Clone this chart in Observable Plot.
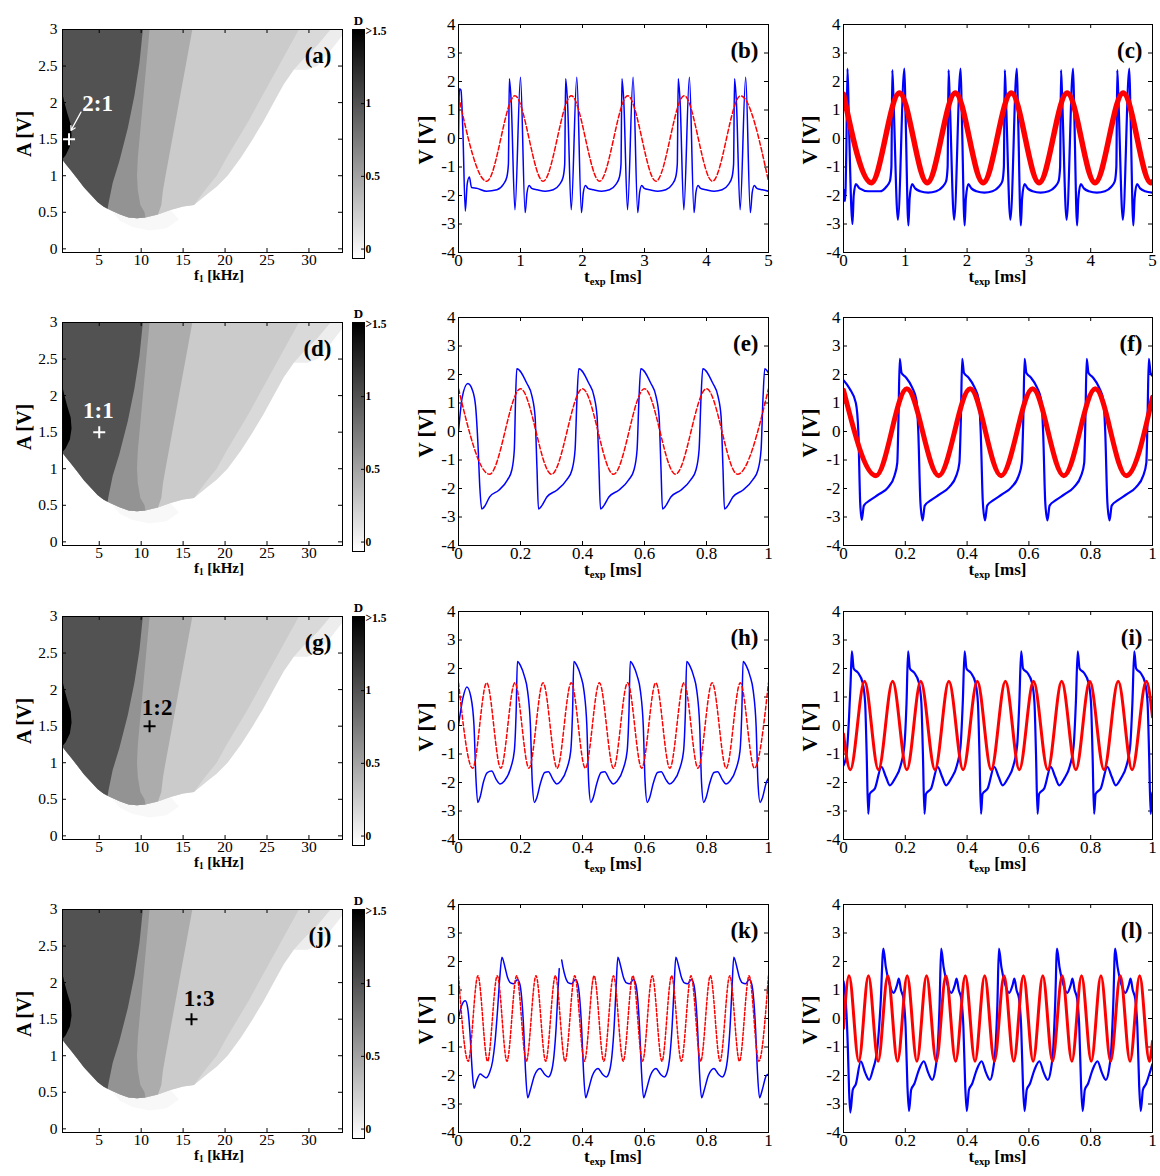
<!DOCTYPE html>
<html><head><meta charset="utf-8">
<script src="https://cdn.jsdelivr.net/npm/d3@7"></script>
<script src="https://cdn.jsdelivr.net/npm/@observablehq/plot@0.6"></script>
<style>
body{margin:0;background:#fff;}
#fig{position:relative;width:1160px;height:1176px;font-family:"Liberation Serif","Times New Roman",serif;background:#fff;overflow:hidden;}
#fig svg{position:absolute;overflow:visible;}
.lab{position:absolute;font-weight:bold;line-height:0.8;white-space:nowrap;color:#000;}
.lab sub{font-size:0.62em;vertical-align:-0.25em;line-height:0;}
.hlab{transform:translate(-50%,-50%);}
.vlab{transform:translate(-50%,-50%) rotate(-90deg);}
.mapPanel g[aria-label$="tick label"]{font-size:15.5px;}
.tsPanel g[aria-label$="tick label"]{font-size:17px;}
.barPanel g[aria-label$="tick label"]{font-size:11.5px;font-weight:bold;}
</style></head><body><div id="fig"></div>
<script>
// ---------- tick labels ----------
const fTicks = [5, 10, 15, 20, 25, 30];
const aTicks = [0, 0.5, 1, 1.5, 2, 2.5, 3];
const vTicks = [-4, -3, -2, -1, 0, 1, 2, 3, 4];
const tTicksLong = [0, 1, 2, 3, 4, 5];
const tTicksShort = [0, 0.2, 0.4, 0.6, 0.8, 1];
const dTicks = [0, 0.5, 1, 1.5];
const panelLetters = [["(a)", "(b)", "(c)"], ["(d)", "(e)", "(f)"], ["(g)", "(h)", "(i)"], ["(j)", "(k)", "(l)"]];

// ---------- locking map (f1 [kHz], A [V]) region outlines ----------
const tongueOuterEdge = [[32.6,3.0],[31.0,2.78],[29.4,2.6],[28.2,2.45],[27.0,2.25],[25.8,2.0],[24.6,1.75],[23.3,1.5],[21.9,1.25],[20.3,1.0],[19.0,0.85],[17.9,0.75],[16.3,0.6]];
const bottomEast = [[15.0,0.58],[13.5,0.53],[12.0,0.47]];
const bottomWest = [[10.5,0.43],[9.5,0.42],[8.5,0.43],[7.5,0.47],[6.5,0.52],[6.0,0.55]];
const darkLowerEdge = [[5.5,0.58],[4.8,0.64],[4.0,0.74],[3.2,0.84],[2.4,0.96],[1.63,1.07],[1.0,1.16],[0.62,1.22]];
const band3Edge = [[28.8,3.0],[27.6,2.75],[26.4,2.5],[25.2,2.25],[24.0,2.0],[22.8,1.75],[21.5,1.5],[20.2,1.25],[19.0,1.0],[17.6,0.8],[16.3,0.6]];
const band2Edge = [[16.1,3.0],[15.7,2.75],[15.3,2.5],[14.9,2.25],[14.5,2.0],[14.1,1.75],[13.7,1.5],[13.3,1.25],[12.9,1.0],[12.6,0.8],[12.4,0.6],[12.0,0.47]];
const band1Edge = [[11.0,3.0],[10.8,2.75],[10.6,2.5],[10.4,2.25],[10.2,2.0],[10.0,1.75],[9.8,1.5],[9.6,1.25],[9.5,1.0],[9.6,0.8],[9.9,0.6],[10.4,0.5]];
const darkEdge = [[10.2,3.0],[9.8,2.55],[9.2,2.1],[8.4,1.65],[7.4,1.2],[6.6,0.9],[6.1,0.62],[6.0,0.55]];
const blackEdge = [[0.62,2.12],[0.85,2.0],[1.2,1.85],[1.6,1.7],[1.7,1.55],[1.5,1.4],[1.0,1.28],[0.62,1.23]];
const topRightFringe = [[29.4,2.6],[31.0,2.78],[32.6,3.0],[34,3.0],[34,2.92],[32.5,2.7],[31,2.5],[29.8,2.45],[28.2,2.45]];
const bottomFringe = [[6.5,0.52],[7.5,0.38],[9,0.3],[11,0.25],[13,0.28],[14.5,0.4],[13.5,0.53]];
const leftTop = [[0.62,3.0]];
// D value of each region
const regionD = {fringeTop: 0.05, fringeBottom: -0.02, L4: 0.17, L3: 0.26, L2: 0.45, L1: 0.6, dark: 1.0, black: 1.6};

// operating points and locking ratios
const lockingRatios = ["2:1", "1:1", "1:2", "1:3"];
const markerF = [1.4, 5, 11, 16];
const markerA = [1.5, 1.5, 1.5, 1.5];
const ratioLabelF = [4.8, 4.9, 11.9, 16.9];
const ratioLabelA = [1.99, 1.8, 1.75, 1.78];
const annotationColor = ["white", "white", "black", "black"];
const arrowFrom = [2.82, 1.87];
const arrowTo = [1.63, 1.62];

// ---------- time series [t ms, V] ----------
const b_neuron = [[0,0],[0.015,1.75],[0.04,1.7],[0.07,0.3],[0.11,-2.55],[0.14,-1.6],[0.175,-1.35],[0.21,-1.72],[0.3,-1.75],[0.45,-1.85],
[0.62,-1.8],[0.72,-1.62],[0.78,-1.35],[0.805,-0.9],[0.82,2.1],[0.85,1.3],[0.91,-2.5],[1.0,2.15],[1.075,-2.6],[1.105,-1.9],[1.14,-1.65],[1.18,-1.75],[1.27,-1.8],[1.4,-1.85],
[1.528,-1.8],[1.628,-1.62],[1.688,-1.35],[1.713,-0.9],[1.728,2.1],[1.758,1.3],[1.818,-2.5],[1.908,2.15],[1.983,-2.6],[2.013,-1.9],[2.048,-1.65],[2.088,-1.75],[2.178,-1.8],[2.308,-1.85],
[2.436,-1.8],[2.536,-1.62],[2.596,-1.35],[2.621,-0.9],[2.636,2.1],[2.666,1.3],[2.726,-2.5],[2.816,2.15],[2.891,-2.6],[2.921,-1.9],[2.956,-1.65],[2.996,-1.75],[3.086,-1.8],[3.216,-1.85],
[3.344,-1.8],[3.444,-1.62],[3.504,-1.35],[3.529,-0.9],[3.544,2.1],[3.574,1.3],[3.634,-2.5],[3.724,2.15],[3.799,-2.6],[3.829,-1.9],[3.864,-1.65],[3.904,-1.75],[3.994,-1.8],[4.124,-1.85],
[4.252,-1.8],[4.352,-1.62],[4.412,-1.35],[4.437,-0.9],[4.452,2.1],[4.482,1.3],[4.542,-2.5],[4.632,2.15],[4.707,-2.6],[4.737,-1.9],[4.772,-1.65],[4.812,-1.75],[4.902,-1.8],[5.0,-1.85]];
const b_drive = [[0,1.5],[0.455,-1.5],[0.91,1.5],[1.365,-1.5],[1.82,1.5],[2.275,-1.5],[2.73,1.5],[3.185,-1.5],[3.64,1.5],[4.095,-1.5],[4.55,1.5],[5.0,-1.5]];

const c_neuron = [[0,-1.8],[0.025,-2.2],[0.045,-0.5],[0.065,2.45],[0.085,0.8],[0.145,-3.0],[0.165,-2.0],[0.2,-1.6],[0.26,-1.75],[0.4,-1.85],
[0.59,-1.85],[0.69,-1.7],[0.75,-1.5],[0.775,-1.0],[0.79,2.4],[0.81,1.3],[0.88,-2.85],[0.985,2.45],[1.005,0.8],[1.05,-3.05],[1.07,-2.1],[1.11,-1.6],[1.16,-1.75],[1.24,-1.85],[1.37,-1.9],
[1.5,-1.85],[1.6,-1.7],[1.66,-1.5],[1.685,-1.0],[1.7,2.4],[1.72,1.3],[1.79,-2.85],[1.895,2.45],[1.915,0.8],[1.96,-3.05],[1.98,-2.1],[2.02,-1.6],[2.07,-1.75],[2.15,-1.85],[2.28,-1.9],
[2.41,-1.85],[2.51,-1.7],[2.57,-1.5],[2.595,-1.0],[2.61,2.4],[2.63,1.3],[2.7,-2.85],[2.805,2.45],[2.825,0.8],[2.87,-3.05],[2.89,-2.1],[2.93,-1.6],[2.98,-1.75],[3.06,-1.85],[3.19,-1.9],
[3.32,-1.85],[3.42,-1.7],[3.48,-1.5],[3.505,-1.0],[3.52,2.4],[3.54,1.3],[3.61,-2.85],[3.715,2.45],[3.735,0.8],[3.78,-3.05],[3.8,-2.1],[3.84,-1.6],[3.89,-1.75],[3.97,-1.85],[4.1,-1.9],
[4.23,-1.85],[4.33,-1.7],[4.39,-1.5],[4.415,-1.0],[4.43,2.4],[4.45,1.3],[4.52,-2.85],[4.625,2.45],[4.645,0.8],[4.69,-3.05],[4.71,-2.1],[4.75,-1.6],[4.8,-1.75],[4.88,-1.85],[5.0,-1.9]];
const c_drive = [[0,1.55],[0.45,-1.55],[0.905,1.6],[1.355,-1.55],[1.81,1.6],[2.26,-1.55],[2.715,1.6],[3.165,-1.55],[3.62,1.6],[4.07,-1.55],[4.525,1.6],[4.975,-1.55],[5.0,-1.52]];

const e_neuron = [[0,0],[0.012,1.2],[0.03,1.68],[0.045,1.45],[0.055,0.9],[0.063,-0.5],[0.069,-2.0],[0.075,-2.72],[0.086,-2.6],[0.1,-2.3],[0.13,-2.06],[0.158,-1.7],[0.172,-1.35],[0.18,-0.65],[0.184,1.1],[0.188,2.2],
[0.22,1.7],[0.237,1.24],[0.247,0.53],[0.253,-1.24],[0.258,-2.72],[0.269,-2.6],[0.285,-2.3],[0.317,-2.06],[0.349,-1.7],[0.366,-1.35],[0.376,-0.65],[0.382,1.1],[0.388,2.2],
[0.42,1.7],[0.437,1.24],[0.447,0.53],[0.453,-1.24],[0.458,-2.72],[0.469,-2.6],[0.485,-2.3],[0.517,-2.06],[0.549,-1.7],[0.566,-1.35],[0.576,-0.65],[0.582,1.1],[0.588,2.2],
[0.62,1.7],[0.637,1.24],[0.647,0.53],[0.653,-1.24],[0.658,-2.72],[0.669,-2.6],[0.685,-2.3],[0.717,-2.06],[0.749,-1.7],[0.766,-1.35],[0.776,-0.65],[0.782,1.1],[0.788,2.2],
[0.82,1.7],[0.837,1.24],[0.847,0.53],[0.853,-1.24],[0.858,-2.72],[0.869,-2.6],[0.885,-2.3],[0.917,-2.06],[0.949,-1.7],[0.966,-1.35],[0.976,-0.65],[0.982,1.1],[0.988,2.2],[1.0,2.05]];
const e_drive = [[0,1.5],[0.1,-1.5],[0.2,1.5],[0.3,-1.5],[0.4,1.5],[0.5,-1.5],[0.6,1.5],[0.7,-1.5],[0.8,1.5],[0.9,-1.5],[1.0,1.5]];

const f_neuron = [[0,1.8],[0.02,1.5],[0.04,1.0],[0.048,0.0],[0.054,-2.5],[0.059,-3.1],[0.066,-2.6],[0.085,-2.42],[0.115,-2.2],[0.145,-1.95],[0.165,-1.55],[0.174,-1.1],[0.178,0.5],[0.182,2.55],
[0.188,2.05],[0.202,1.9],[0.222,1.55],[0.236,1.1],[0.242,0.0],[0.249,-2.5],[0.256,-3.12],[0.263,-2.6],[0.282,-2.42],[0.312,-2.2],[0.342,-1.95],[0.365,-1.55],[0.375,-1.1],[0.38,0.5],[0.384,2.55],
[0.39,2.05],[0.404,1.9],[0.424,1.55],[0.438,1.1],[0.444,0.0],[0.451,-2.5],[0.458,-3.12],[0.465,-2.6],[0.484,-2.42],[0.514,-2.2],[0.544,-1.95],[0.567,-1.55],[0.577,-1.1],[0.582,0.5],[0.586,2.55],
[0.592,2.05],[0.606,1.9],[0.626,1.55],[0.64,1.1],[0.646,0.0],[0.653,-2.5],[0.66,-3.12],[0.667,-2.6],[0.686,-2.42],[0.716,-2.2],[0.746,-1.95],[0.769,-1.55],[0.779,-1.1],[0.783,0.5],[0.787,2.55],
[0.793,2.05],[0.807,1.9],[0.827,1.55],[0.841,1.1],[0.847,0.0],[0.854,-2.5],[0.861,-3.12],[0.868,-2.6],[0.887,-2.42],[0.917,-2.2],[0.947,-1.95],[0.97,-1.55],[0.98,-1.1],[0.984,0.5],[0.988,2.55],[0.994,2.05],[1.0,1.95]];
const f_drive = [[0,1.45],[0.105,-1.55],[0.205,1.5],[0.308,-1.55],[0.41,1.5],[0.51,-1.55],[0.612,1.5],[0.713,-1.55],[0.815,1.5],[0.915,-1.55],[1.0,1.2]];

const h_neuron = [[0,0],[0.015,1.0],[0.027,1.35],[0.04,1.0],[0.05,0.0],[0.056,-1.8],[0.062,-2.7],[0.07,-2.5],[0.08,-2.0],[0.093,-1.65],[0.107,-1.6],[0.122,-1.9],[0.134,-2.05],[0.148,-1.95],[0.168,-1.5],[0.18,-0.9],[0.186,0.5],[0.19,2.25],
[0.2,2.1],[0.212,1.75],[0.223,1.2],[0.232,0.0],[0.238,-2.0],[0.245,-2.7],[0.252,-2.55],[0.265,-2.0],[0.278,-1.65],[0.29,-1.62],[0.305,-1.9],[0.317,-2.05],[0.33,-1.95],[0.35,-1.5],[0.362,-0.9],[0.368,0.5],[0.372,2.25],
[0.382,2.1],[0.394,1.75],[0.405,1.2],[0.414,0.0],[0.42,-2.0],[0.427,-2.7],[0.434,-2.55],[0.447,-2.0],[0.46,-1.65],[0.472,-1.62],[0.487,-1.9],[0.499,-2.05],[0.512,-1.95],[0.532,-1.5],[0.544,-0.9],[0.55,0.5],[0.554,2.25],
[0.564,2.1],[0.576,1.75],[0.587,1.2],[0.596,0.0],[0.602,-2.0],[0.609,-2.7],[0.616,-2.55],[0.629,-2.0],[0.642,-1.65],[0.654,-1.62],[0.669,-1.9],[0.681,-2.05],[0.694,-1.95],[0.714,-1.5],[0.726,-0.9],[0.732,0.5],[0.736,2.25],
[0.746,2.1],[0.758,1.75],[0.769,1.2],[0.778,0.0],[0.784,-2.0],[0.791,-2.7],[0.798,-2.55],[0.811,-2.0],[0.824,-1.65],[0.836,-1.62],[0.851,-1.9],[0.863,-2.05],[0.876,-1.95],[0.896,-1.5],[0.908,-0.9],[0.914,0.5],[0.918,2.25],
[0.928,2.1],[0.94,1.75],[0.951,1.2],[0.96,0.0],[0.966,-2.0],[0.973,-2.7],[0.98,-2.55],[0.993,-2.0],[1.0,-1.85]];
const h_drive = [[0,1.5],[0.0455,-1.5],[0.0909,1.5],[0.1364,-1.5],[0.1818,1.5],[0.2273,-1.5],[0.2727,1.5],[0.3182,-1.5],[0.3636,1.5],[0.4091,-1.5],[0.4545,1.5],[0.5,-1.5],[0.5455,1.5],[0.5909,-1.5],[0.6364,1.5],[0.6818,-1.5],[0.7273,1.5],[0.7727,-1.5],[0.8182,1.5],[0.8636,-1.5],[0.9091,1.5],[0.9545,-1.5],[1.0,1.5]];

const i_neuron = [[0,-1.4],[0.01,-1.0],[0.018,0.3],[0.023,1.5],[0.027,2.6],
[0.033,2.0],[0.047,1.85],[0.062,1.5],[0.07,0.8],[0.075,-1.0],[0.08,-3.1],[0.085,-2.4],[0.102,-2.2],[0.123,-1.45],[0.137,-1.8],[0.15,-2.1],[0.167,-1.85],[0.185,-1.4],[0.197,-0.7],[0.204,0.8],[0.209,2.6],
[0.215,2.0],[0.229,1.85],[0.244,1.5],[0.252,0.8],[0.257,-1.0],[0.262,-3.1],[0.267,-2.4],[0.284,-2.2],[0.305,-1.45],[0.319,-1.8],[0.332,-2.1],[0.349,-1.85],[0.367,-1.4],[0.379,-0.7],[0.386,0.8],[0.392,2.6],
[0.398,2.0],[0.412,1.85],[0.427,1.5],[0.435,0.8],[0.44,-1.0],[0.445,-3.1],[0.45,-2.4],[0.467,-2.2],[0.488,-1.45],[0.502,-1.8],[0.515,-2.1],[0.532,-1.85],[0.55,-1.4],[0.562,-0.7],[0.569,0.8],[0.575,2.6],
[0.581,2.0],[0.595,1.85],[0.61,1.5],[0.618,0.8],[0.623,-1.0],[0.628,-3.1],[0.633,-2.4],[0.65,-2.2],[0.671,-1.45],[0.685,-1.8],[0.698,-2.1],[0.715,-1.85],[0.733,-1.4],[0.745,-0.7],[0.752,0.8],[0.758,2.6],
[0.764,2.0],[0.778,1.85],[0.793,1.5],[0.801,0.8],[0.806,-1.0],[0.811,-3.1],[0.816,-2.4],[0.833,-2.2],[0.854,-1.45],[0.868,-1.8],[0.881,-2.1],[0.898,-1.85],[0.916,-1.4],[0.928,-0.7],[0.935,0.8],[0.941,2.6],
[0.947,2.0],[0.961,1.85],[0.976,1.5],[0.984,0.8],[0.989,-1.0],[0.994,-3.1],[0.999,-2.4],[1.0,-2.35]];
const i_drive = [[0,-0.3],[0.022,-1.55],[0.068,1.55],[0.113,-1.55],[0.159,1.55],[0.205,-1.55],[0.25,1.55],[0.296,-1.55],[0.341,1.55],[0.387,-1.55],[0.433,1.55],[0.478,-1.55],[0.524,1.55],[0.569,-1.55],[0.615,1.55],[0.661,-1.55],[0.706,1.55],[0.752,-1.55],[0.797,1.55],[0.843,-1.55],[0.889,1.55],[0.934,-1.55],[0.98,1.55],[1.0,0.3]];

const k_neuron = [[0,0],[0.01,0.45],[0.022,0.62],[0.03,0.35],[0.037,-0.5],[0.044,-1.8],[0.05,-2.45],[0.058,-2.2],[0.07,-1.95],[0.08,-2.02],[0.089,-2.08],[0.1,-1.9],[0.11,-1.5],[0.118,-0.8],[0.126,0.3],[0.133,1.4],[0.14,2.15],
[0.15,1.8],[0.158,1.45],[0.168,1.25],[0.178,1.22],[0.19,1.37],[0.198,1.2],[0.204,0.7],[0.21,-0.3],[0.216,-1.8],[0.223,-2.78],[0.232,-2.5],[0.245,-2.0],[0.263,-1.75],[0.277,-1.95],[0.29,-2.05],[0.3,-1.85],[0.308,-1.3],[0.315,-0.3],[0.321,1.0],[0.325,1.75],[0.329,NaN],
[0.333,2.05],[0.337,1.8],[0.345,1.45],[0.355,1.25],[0.365,1.22],[0.377,1.37],[0.385,1.2],[0.391,0.7],[0.397,-0.3],[0.403,-1.8],[0.41,-2.78],[0.419,-2.5],[0.432,-2.0],[0.45,-1.75],[0.464,-1.95],[0.477,-2.05],[0.487,-1.85],[0.495,-1.3],[0.502,-0.3],[0.508,1.0],[0.514,2.15],
[0.524,1.8],[0.532,1.45],[0.542,1.25],[0.552,1.22],[0.564,1.37],[0.572,1.2],[0.578,0.7],[0.584,-0.3],[0.59,-1.8],[0.597,-2.78],[0.606,-2.5],[0.619,-2.0],[0.637,-1.75],[0.651,-1.95],[0.664,-2.05],[0.674,-1.85],[0.682,-1.3],[0.689,-0.3],[0.695,1.0],[0.701,2.15],
[0.711,1.8],[0.719,1.45],[0.729,1.25],[0.739,1.22],[0.751,1.37],[0.759,1.2],[0.765,0.7],[0.771,-0.3],[0.777,-1.8],[0.784,-2.78],[0.793,-2.5],[0.806,-2.0],[0.824,-1.75],[0.838,-1.95],[0.851,-2.05],[0.861,-1.85],[0.869,-1.3],[0.876,-0.3],[0.882,1.0],[0.888,2.15],
[0.898,1.8],[0.906,1.45],[0.916,1.25],[0.926,1.22],[0.938,1.37],[0.946,1.2],[0.952,0.7],[0.958,-0.3],[0.964,-1.8],[0.971,-2.78],[0.98,-2.5],[0.993,-2.0],[1.0,-1.95]];
const k_drive = [[0,1.5],[0.03125,-1.5],[0.0625,1.5],[0.09375,-1.5],[0.125,1.5],[0.15625,-1.5],[0.1875,1.5],[0.21875,-1.5],[0.25,1.5],[0.28125,-1.5],[0.3125,1.5],[0.34375,-1.5],[0.375,1.5],[0.40625,-1.5],[0.4375,1.5],[0.46875,-1.5],[0.5,1.5],[0.53125,-1.5],[0.5625,1.5],[0.59375,-1.5],[0.625,1.5],[0.65625,-1.5],[0.6875,1.5],[0.71875,-1.5],[0.75,1.5],[0.78125,-1.5],[0.8125,1.5],[0.84375,-1.5],[0.875,1.5],[0.90625,-1.5],[0.9375,1.5],[0.96875,-1.5],[1.0,1.5]];

const l_neuron = [[0,1.3],[0.008,0.5],[0.014,-1.0],[0.018,-2.5],[0.022,-3.3],[0.03,-2.5],[0.04,-2.3],[0.056,-1.5],[0.07,-1.9],[0.083,-2.15],[0.095,-1.8],[0.11,-1.0],[0.12,0.5],[0.129,2.45],
[0.137,1.8],[0.149,1.2],[0.162,0.9],[0.174,1.2],[0.179,1.4],[0.186,1.0],[0.194,0.7],[0.201,-0.3],[0.207,-2.4],[0.212,-3.25],[0.219,-2.5],[0.229,-2.3],[0.244,-1.8],[0.26,-1.5],[0.274,-1.9],[0.287,-2.15],[0.297,-1.8],[0.305,-1.0],[0.311,0.5],[0.316,2.45],
[0.324,1.8],[0.336,1.2],[0.349,0.9],[0.361,1.2],[0.366,1.4],[0.373,1.0],[0.381,0.7],[0.388,-0.3],[0.394,-2.4],[0.399,-3.25],[0.406,-2.5],[0.416,-2.3],[0.431,-1.8],[0.447,-1.5],[0.461,-1.9],[0.474,-2.15],[0.484,-1.8],[0.492,-1.0],[0.498,0.5],[0.503,2.45],
[0.511,1.8],[0.523,1.2],[0.536,0.9],[0.548,1.2],[0.553,1.4],[0.56,1.0],[0.568,0.7],[0.575,-0.3],[0.581,-2.4],[0.586,-3.25],[0.593,-2.5],[0.603,-2.3],[0.618,-1.8],[0.634,-1.5],[0.648,-1.9],[0.661,-2.15],[0.671,-1.8],[0.679,-1.0],[0.685,0.5],[0.691,2.45],
[0.699,1.8],[0.711,1.2],[0.724,0.9],[0.736,1.2],[0.741,1.4],[0.748,1.0],[0.756,0.7],[0.763,-0.3],[0.769,-2.4],[0.774,-3.25],[0.781,-2.5],[0.791,-2.3],[0.806,-1.8],[0.822,-1.5],[0.836,-1.9],[0.849,-2.15],[0.859,-1.8],[0.867,-1.0],[0.873,0.5],[0.879,2.45],
[0.887,1.8],[0.899,1.2],[0.912,0.9],[0.924,1.2],[0.929,1.4],[0.936,1.0],[0.944,0.7],[0.951,-0.3],[0.957,-2.4],[0.962,-3.25],[0.969,-2.5],[0.979,-2.3],[0.994,-1.8],[1.0,-1.6]];
const l_drive = [[0,-0.35],[0.018,1.5],[0.0494,-1.5],[0.0807,1.5],[0.1121,-1.5],[0.1434,1.5],[0.1748,-1.5],[0.2061,1.5],[0.2375,-1.5],[0.2688,1.5],[0.3002,-1.5],[0.3315,1.5],[0.3629,-1.5],[0.3942,1.5],[0.4256,-1.5],[0.4569,1.5],[0.4883,-1.5],[0.5196,1.5],[0.551,-1.5],[0.5823,1.5],[0.6137,-1.5],[0.645,1.5],[0.6764,-1.5],[0.7077,1.5],[0.7391,-1.5],[0.7704,1.5],[0.8018,-1.5],[0.8331,1.5],[0.8645,-1.5],[0.8958,1.5],[0.9272,-1.5],[0.9585,1.5],[0.9899,-1.5],[1.0,-0.8]];

// ---------- assembly ----------
const fig = document.getElementById("fig");
const rowTop = [0, 293.3, 586.7, 880];
const fontFam = "'Liberation Serif','Times New Roman',serif";
const colorScale = {type: "linear", domain: [-0.06, 1.5], range: ["white", "black"], clamp: true};

const regions = [
  {D: regionD.fringeTop, pts: topRightFringe},
  {D: regionD.fringeBottom, pts: bottomFringe},
  {D: regionD.L4, pts: [...leftTop, ...tongueOuterEdge, ...bottomEast, ...bottomWest, ...darkLowerEdge]},
  {D: regionD.L3, pts: [...leftTop, ...band3Edge, ...bottomEast, ...bottomWest, ...darkLowerEdge]},
  {D: regionD.L2, pts: [...leftTop, ...band2Edge, ...bottomWest, ...darkLowerEdge]},
  {D: regionD.L1, pts: [...leftTop, ...band1Edge, ...bottomWest, ...darkLowerEdge]},
  {D: regionD.dark, pts: [...leftTop, ...darkEdge, ...darkLowerEdge]},
  {D: regionD.black, pts: blackEdge}
];

function inwardTicks(xt, yt, fw, fh, len) {
  return [
    Plot.tickY(yt, {y: d => d, insetRight: fw - len, stroke: "black"}),
    Plot.tickY(yt, {y: d => d, insetLeft: fw - len, stroke: "black"}),
    Plot.tickX(xt, {x: d => d, insetTop: fh - len, stroke: "black"}),
    Plot.tickX(xt, {x: d => d, insetBottom: fh - len, stroke: "black"})
  ];
}

function put(svg, left, top, cls) {
  svg.classList.add(cls);
  svg.style.left = left + "px";
  svg.style.top = top + "px";
  fig.appendChild(svg);
}
function label(html, cx, cy, vertical, size) {
  const d = document.createElement("div");
  d.className = "lab " + (vertical ? "vlab" : "hlab");
  d.innerHTML = html;
  d.style.left = cx + "px";
  d.style.top = cy + "px";
  d.style.fontSize = size + "px";
  fig.appendChild(d);
}

function mapPanel(r) {
  const W = 345, H = 292, mL = 62, mR = 3, mT = 29, mB = 40;
  const marks = regions.map(g => Plot.line(g.pts, {x: d => d[0], y: d => d[1], fill: () => g.D, stroke: "none"}));
  marks.push(...inwardTicks(fTicks, aTicks, W - mL - mR, H - mT - mB, 4));
  marks.push(Plot.frame({stroke: "black"}));
  marks.push(Plot.axisX(fTicks, {tickSize: 0, tickPadding: 1, tickFormat: d => String(d)}));
  marks.push(Plot.axisY(aTicks, {tickSize: 0, tickPadding: 5, tickFormat: d => String(d)}));
  if (r === 0) {
    marks.push(Plot.arrow([0], {x1: () => arrowFrom[0], y1: () => arrowFrom[1], x2: () => arrowTo[0], y2: () => arrowTo[1], stroke: "white", strokeWidth: 1.2, headLength: 6}));
  }
  marks.push(Plot.dot([r], {x: i => markerF[i], y: i => markerA[i], symbol: "plus", r: 3.95, stroke: annotationColor[r], strokeWidth: 2}));
  marks.push(Plot.text([r], {x: i => ratioLabelF[i], y: i => ratioLabelA[i], text: i => lockingRatios[i], fill: annotationColor[r], fontSize: 23, fontWeight: "bold"}));
  marks.push(Plot.text([panelLetters[r][0]], {frameAnchor: "top-right", textAnchor: "end", lineAnchor: "middle", dx: -11, dy: 26, fontSize: 23, fontWeight: "bold", fill: "black"}));
  const svg = Plot.plot({
    width: W, height: H, marginLeft: mL, marginRight: mR, marginTop: mT, marginBottom: mB,
    x: {domain: [0.62, 34], axis: null},
    y: {domain: [-0.05, 3], axis: null},
    color: colorScale,
    style: {fontFamily: fontFam, fontSize: "15px", color: "black", background: "transparent"},
    marks
  });
  put(svg, 0, rowTop[r], "mapPanel");

  // colour bar
  const cW = 55, cmL = 7, cmR = 36, cmT = 29, cmB = 34;
  const bar = Plot.plot({
    width: cW, height: H, marginLeft: cmL, marginRight: cmR, marginTop: cmT, marginBottom: cmB,
    x: {domain: [0, 1], axis: null},
    y: {domain: [-0.065, 1.51], axis: null},
    color: colorScale,
    style: {fontFamily: fontFam, color: "black", background: "transparent"},
    marks: [
      Plot.raster({fill: (x, y) => y, x1: 0, x2: 1, y1: -0.065, y2: 1.51, pixelSize: 1}),
      Plot.tickY(dTicks, {y: d => d, insetLeft: cW - cmL - cmR - 3, stroke: "black"}),
      Plot.frame({stroke: "black"}),
      Plot.axisY(dTicks, {anchor: "right", tickSize: 0, tickPadding: 1, tickFormat: d => d === 1.5 ? ">1.5" : String(d)}),
      Plot.text(["D"], {frameAnchor: "top", dy: -14, fontSize: 13, fontWeight: "bold", fill: "black"})
    ]
  });
  put(bar, 345, rowTop[r], "barPanel");

  label("A [V]", 24, rowTop[r] + 134, true, 20);
  label("f<sub>1</sub> [kHz]", 219, rowTop[r] + 275, false, 15);
}

function seriesPanel(r, col, neuron, drive, opts) {
  const W = 380, H = 292;
  const mL = col === 1 ? 58 : 63, mR = col === 1 ? 12 : 8, mT = 24, mB = 40;
  const xt = opts.xMax === 5 ? tTicksLong : tTicksShort;
  const marks = [
    ...inwardTicks(xt, vTicks, W - mL - mR, H - mT - mB, 4),
    Plot.line(neuron, {x: d => d[0], y: d => d[1], stroke: "#0000ff", strokeWidth: opts.blueWidth, curve: "monotone-x", clip: true}),
    Plot.line(drive, {x: d => d[0], y: d => d[1], stroke: "#ff0000", strokeWidth: opts.redWidth, strokeDasharray: opts.dash, curve: "monotone-x", clip: true}),
    Plot.frame({stroke: "black"}),
    Plot.axisX(xt, {tickSize: 0, tickPadding: 1, tickFormat: d => String(d)}),
    Plot.axisY(vTicks, {tickSize: 0, tickPadding: 3, tickFormat: d => String(d)}),
    Plot.text([panelLetters[r][col]], {frameAnchor: "top-right", textAnchor: "end", lineAnchor: "middle", dx: -10, dy: 26, fontSize: 23, fontWeight: "bold", fill: "black"})
  ];
  const svg = Plot.plot({
    width: W, height: H, marginLeft: mL, marginRight: mR, marginTop: mT, marginBottom: mB,
    x: {domain: [0, opts.xMax], axis: null},
    y: {domain: [-4, 4], axis: null},
    style: {fontFamily: fontFam, fontSize: "16px", color: "black", background: "transparent"},
    marks
  });
  const left = col === 1 ? 400 : 780;
  put(svg, left, rowTop[r], "tsPanel");
  const cx = left + mL + (W - mL - mR) / 2;
  label("V [V]", left + (col === 1 ? 26 : 30), rowTop[r] + 140, true, 21);
  label("t<sub>exp</sub> [ms]", cx, rowTop[r] + 277, false, 17);
}

const modelData = [[b_neuron, b_drive, 5, "4.5,2.5"], [e_neuron, e_drive, 1, "4.5,2.5"], [h_neuron, h_drive, 1, "4,2.5"], [k_neuron, k_drive, 1, "3,2"]];
const expData = [[c_neuron, c_drive, 5, 5.5], [f_neuron, f_drive, 1, 5], [i_neuron, i_drive, 1, 3], [l_neuron, l_drive, 1, 3]];

try {
  for (let r = 0; r < 4; r++) {
    mapPanel(r);
    const m = modelData[r], e = expData[r];
    seriesPanel(r, 1, m[0], m[1], {xMax: m[2], dash: m[3], blueWidth: 1.5, redWidth: 1.5});
    seriesPanel(r, 2, e[0], e[1], {xMax: e[2], dash: null, blueWidth: 2.2, redWidth: e[3]});
  }
} catch (err) {
  const p = document.createElement("pre");
  p.textContent = String(err && err.stack || err);
  document.body.appendChild(p);
  throw err;
}
</script></body></html>
